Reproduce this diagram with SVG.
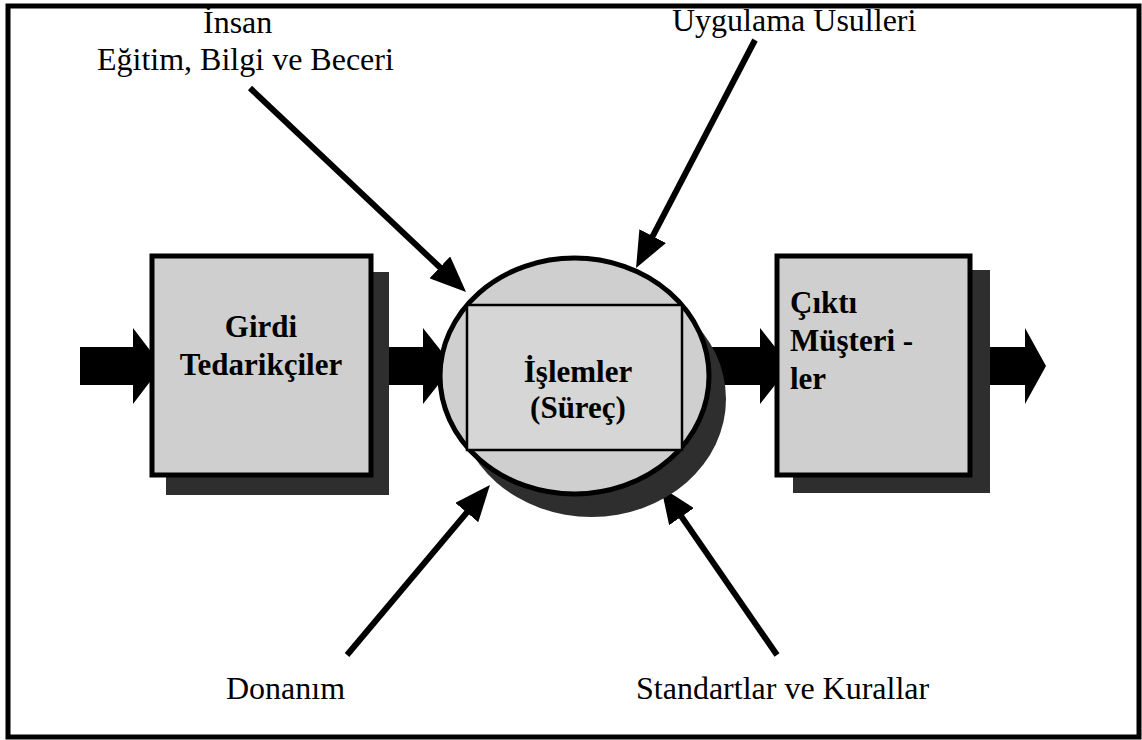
<svg xmlns="http://www.w3.org/2000/svg" width="1142" height="740" viewBox="0 0 1142 740">
  <style>
    .lbl { font-family: "Liberation Serif", "Times New Roman", serif; font-size: 32px; fill: #000; }
    .bold { font-family: "Liberation Serif", "Times New Roman", serif; font-size: 31px; font-weight: bold; fill: #000; }
    .box { fill: #cfcfcf; stroke: #000; stroke-width: 5; }
    .shadow { fill: #2e2e2e; }
    .thick { fill: #000; }
    .thin { stroke: #000; stroke-width: 6; fill: none; marker-end: url(#head); }
  </style>
  <defs>
    <marker id="head" markerUnits="userSpaceOnUse" markerWidth="36" markerHeight="30" refX="16" refY="15" orient="auto">
      <path d="M0,0 L36,15 L0,30 z" fill="#000"/>
    </marker>
  </defs>
  <rect x="0" y="0" width="1142" height="740" fill="#fff"/>
  <rect id="frame" x="8" y="6" width="1131" height="731" fill="none" stroke="#000" stroke-width="5"/>

  <g id="connectors">
    <polygon class="thick" points="80,347 133,347 133,328 162,366 133,404 133,385 80,385"/>
    <polygon class="thick" points="373,347 423,347 423,328 453,366 423,404 423,385 373,385"/>
    <polygon class="thick" points="700,347 760,347 760,328 790,366 760,404 760,385 700,385"/>
    <polygon class="thick" points="972,347 1025,347 1025,328 1046,366 1025,404 1025,385 972,385"/>
    <line class="thin" x1="250" y1="88" x2="451.5" y2="278.3"/>
    <line class="thin" x1="755" y1="40" x2="645.3" y2="250.3"/>
    <line class="thin" x1="347" y1="655" x2="477.1" y2="500.3"/>
    <line class="thin" x1="777" y1="655" x2="672.4" y2="503.5"/>
  </g>

  <g id="girdi">
    <rect class="shadow" x="166" y="272" width="223" height="223"/>
    <rect class="box" x="152" y="256" width="219" height="219"/>
    <text class="bold" x="261" y="337" text-anchor="middle">Girdi</text>
    <text class="bold" x="261" y="375" text-anchor="middle">Tedarikçiler</text>
  </g>

  <g id="islemler">
    <ellipse class="shadow" cx="591.5" cy="399" rx="134.5" ry="118"/>
    <ellipse cx="574.5" cy="376" rx="134.5" ry="118" fill="#cfcfcf" stroke="#000" stroke-width="5"/>
    <rect x="467" y="305" width="215" height="145" fill="#d6d6d6" stroke="#000" stroke-width="2.5"/>
    <text class="bold" x="578" y="382" text-anchor="middle">İşlemler</text>
    <text class="bold" x="578" y="418" text-anchor="middle">(Süreç)</text>
  </g>

  <g id="cikti">
    <rect class="shadow" x="793" y="270" width="197" height="223"/>
    <rect class="box" x="777" y="256" width="193" height="219"/>
    <text class="bold" x="790" y="313">Çıktı</text>
    <text class="bold" x="790" y="351">Müşteri -</text>
    <text class="bold" x="790" y="389">ler</text>
  </g>

  <g id="insan">
    <text class="lbl" x="203" y="33">İnsan</text>
    <text class="lbl" x="97" y="70">Eğitim, Bilgi ve Beceri</text>
  </g>
  <g id="uygulama">
    <text class="lbl" x="672" y="31">Uygulama Usulleri</text>
  </g>
  <g id="donanim">
    <text class="lbl" x="226" y="699">Donanım</text>
  </g>
  <g id="standartlar">
    <text class="lbl" x="636" y="699">Standartlar ve Kurallar</text>
  </g>
</svg>
